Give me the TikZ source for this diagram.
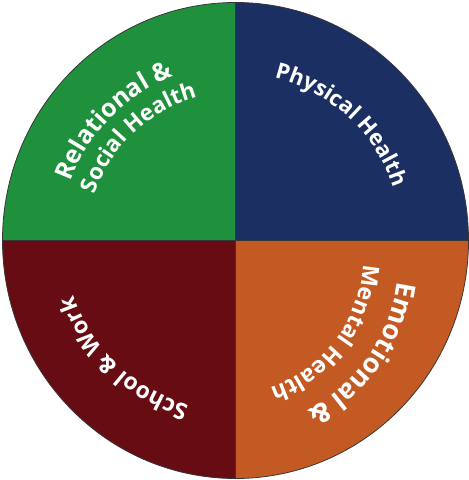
\documentclass[tikz,border=0pt]{standalone}
\usepackage{fontspec}
\setsansfont{Open Sans}
\usetikzlibrary{decorations.text}

\definecolor{relgreen}{RGB}{31,145,60}
\definecolor{physnavy}{RGB}{27,47,99}
\definecolor{emoorange}{RGB}{196,90,35}
\definecolor{schoolred}{RGB}{104,12,20}
\definecolor{rimgray}{RGB}{55,55,55}

\tikzset{
  rim/.style={draw=rimgray, line width=0.8pt},
  arclabel/.style={decorate, decoration={text along path, text align=center, text color=white}}
}
\newcommand{\wheelfont}[1]{\sffamily\bfseries\fontsize{#1}{#1}\selectfont}

\begin{document}
\begin{tikzpicture}[x=1pt,y=1pt]
  \useasboundingbox (0,0) rectangle (469,480);

  \begin{scope}[shift={(235.5,239.5)}]
    % four quarters
    \fill[relgreen]  (0,0) -- (-233,0) arc[start angle=180, end angle=90, x radius=233, y radius=238] -- cycle;
    \fill[physnavy]  (0,0) -- (0,238) arc[start angle=90, end angle=0, x radius=233, y radius=238] -- cycle;
    \fill[emoorange] (0,0) -- (233,0) arc[start angle=0, end angle=-90, x radius=233, y radius=238] -- cycle;
    \fill[schoolred] (0,0) -- (0,-238) arc[start angle=-90, end angle=-180, x radius=233, y radius=238] -- cycle;

    \draw[rim] (0,238) -- (0,-238);
    \draw[rim] (-233,0) -- (233,0);
    \draw[rim] (0,0) ellipse[x radius=233, y radius=238];

    % labels, written clockwise round the wheel
    \path[arclabel, decoration={text={|\wheelfont{22}|Physical Health}}]
      (92.5:167) arc[start angle=92.5, end angle=2.5, radius=167];
    \path[arclabel, decoration={text={|\wheelfont{25}|Relational {\&}}}]
      (180:175) arc[start angle=180, end angle=91, radius=175];
    \path[arclabel, decoration={text={|\wheelfont{22.5}|Social Health}}]
      (178:148) arc[start angle=178, end angle=88.8, radius=148];
    \path[arclabel, decoration={text={|\wheelfont{23}|School {\&} Work}}]
      (-89:171) arc[start angle=-89, end angle=-178, radius=171];

    \begin{scope}[shift={(-9.5,-17.5)}]
      \path[arclabel, decoration={text={|\wheelfont{27}|Emotional {\&}}}]
        (10:173) arc[start angle=10, end angle=-80, radius=173];
      \path[arclabel, decoration={text={|\wheelfont{23}|Mental Health}}]
        (8:137) arc[start angle=8, end angle=-82, radius=137];
    \end{scope}
  \end{scope}
\end{tikzpicture}
\end{document}
